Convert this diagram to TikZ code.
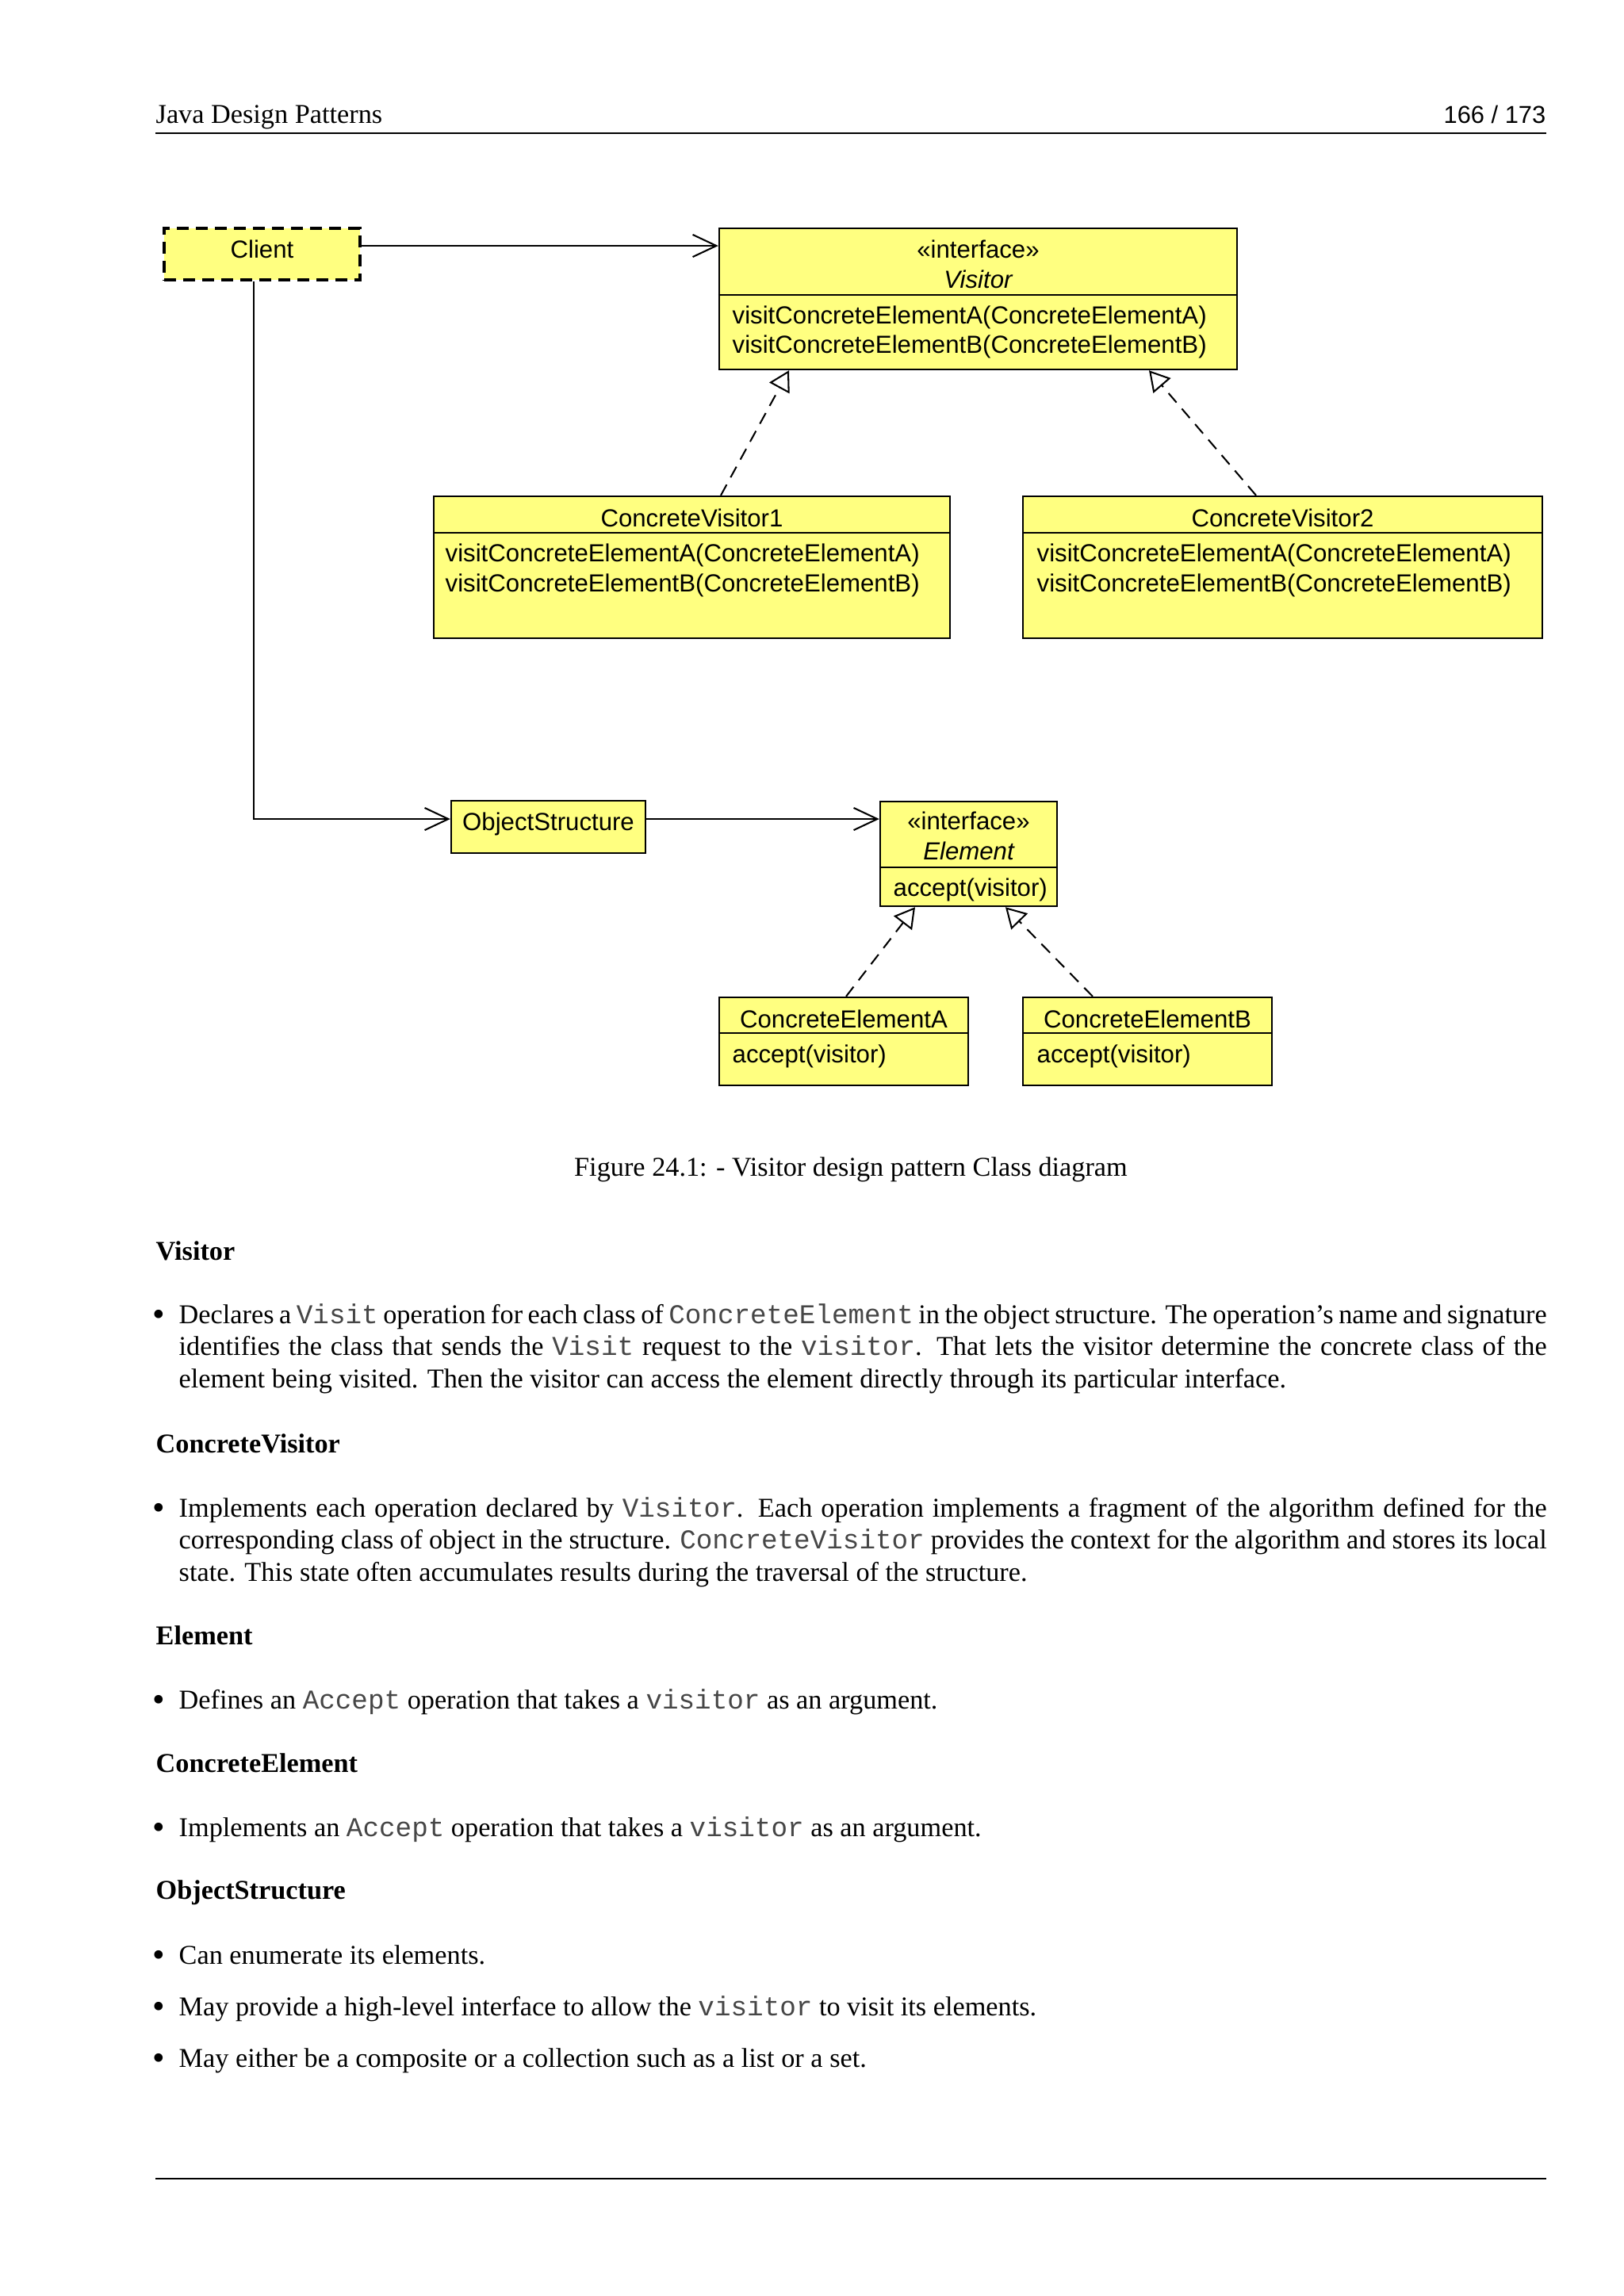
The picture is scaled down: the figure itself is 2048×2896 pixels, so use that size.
\documentclass[tikz,border=0pt]{standalone}
\usepackage{fontspec}
\setmainfont{Liberation Serif}
\setsansfont{Liberation Sans}
\setmonofont{Liberation Mono}
\usepackage{tikz}
\usetikzlibrary{arrows.meta,fit}
\definecolor{umlyellow}{RGB}{255,255,128}
\definecolor{codegray}{RGB}{70,70,70}
\newcommand{\code}[1]{\textcolor{codegray}{\texttt{#1}}}
\hyphenpenalty=10000

\begin{document}
\begin{tikzpicture}[x=0.102539mm,y=0.102539mm]
\tikzstyle{every node}+=[inner sep=0pt]
\tikzstyle{umlbox}=[draw=black,fill=umlyellow,line width=0.7pt]
\tikzstyle{umltext}=[font=\sffamily\fontsize{9.1}{11}\selectfont,anchor=base]
\tikzstyle{umlname}=[font=\sffamily\itshape\fontsize{9.1}{11}\selectfont,anchor=base]
\tikzstyle{umlop}=[umltext,anchor=base west]
\tikzstyle{assoc}=[line width=0.6pt,-{Straight Barb[length=8.7pt,width=8.2pt]}]
\tikzstyle{realize}=[line width=0.6pt,dash pattern=on 4.5pt off 3pt,-{Triangle[open,fill=white,length=7.4pt,width=8.4pt]}]
\tikzstyle{para}=[font=\fontsize{10}{11.9}\selectfont,anchor=base west,text width=176.88mm,align=justify]
\tikzstyle{heading}=[font=\fontsize{10}{12}\selectfont\bfseries,anchor=base west]
\tikzstyle{bullet}=[font=\fontsize{13}{14}\selectfont,anchor=base west]
\fill [white] (0,0) rectangle (2048,-2896);
\useasboundingbox (0,0) rectangle (2048,-2896);
\node [font=\fontsize{10}{12}\selectfont,anchor=base west] (booktitle) at (196,-155) {Java Design Patterns};
\node [font=\sffamily\fontsize{9}{11}\selectfont,anchor=base east] (pageno) at (1950,-155) {166 / 173};
\draw [line width=0.6pt] (196,-168) -- (1950,-168);
\node [umlbox,line width=0.9pt,dash pattern=on 4.4pt off 2.6pt,fit={(207,-288) (454,-353)}] (client) {};
\node [umltext] (clientname) at (330.5,-325) {Client};
\node [umlbox,fit={(907,-288) (1560,-466)}] (visitor) {};
\draw [line width=0.7pt] (visitor.west |- 0,-372) -- (visitor.east |- 0,-372);
\node [umltext] (visitorkind) at (1233.5,-325) {«interface»};
\node [umlname] (visitorname) at (1233.5,-363) {Visitor};
\node [umlop] (visitorop1) at (923,-408) {visitConcreteElementA(ConcreteElementA)};
\node [umlop] (visitorop2) at (923,-445) {visitConcreteElementB(ConcreteElementB)};
\node [umlbox,fit={(547,-626) (1198,-805)}] (cv1) {};
\draw [line width=0.7pt] (cv1.west |- 0,-672) -- (cv1.east |- 0,-672);
\node [umltext] (cv1name) at (872.5,-664) {ConcreteVisitor1};
\node [umlop] (cv1op1) at (561,-708) {visitConcreteElementA(ConcreteElementA)};
\node [umlop] (cv1op2) at (561,-746) {visitConcreteElementB(ConcreteElementB)};
\node [umlbox,fit={(1290,-626) (1945,-805)}] (cv2) {};
\draw [line width=0.7pt] (cv2.west |- 0,-672) -- (cv2.east |- 0,-672);
\node [umltext] (cv2name) at (1617.5,-664) {ConcreteVisitor2};
\node [umlop] (cv2op1) at (1307,-708) {visitConcreteElementA(ConcreteElementA)};
\node [umlop] (cv2op2) at (1307,-746) {visitConcreteElementB(ConcreteElementB)};
\node [umlbox,fit={(569,-1010) (814,-1076)}] (objstruct) {};
\node [umltext] (objstructname) at (691.5,-1047) {ObjectStructure};
\node [umlbox,fit={(1110,-1011) (1333,-1143)}] (element) {};
\draw [line width=0.7pt] (element.west |- 0,-1094) -- (element.east |- 0,-1094);
\node [umltext] (elementkind) at (1221.5,-1046) {«interface»};
\node [umlname] (elementname) at (1221.5,-1084) {Element};
\node [umlop] (elementop) at (1126,-1130) {accept(visitor)};
\node [umlbox,fit={(907,-1258) (1221,-1369)}] (cea) {};
\draw [line width=0.7pt] (cea.west |- 0,-1303) -- (cea.east |- 0,-1303);
\node [umltext] (ceaname) at (1064,-1296) {ConcreteElementA};
\node [umlop] (ceaop) at (923,-1340) {accept(visitor)};
\node [umlbox,fit={(1290,-1258) (1604,-1369)}] (ceb) {};
\draw [line width=0.7pt] (ceb.west |- 0,-1303) -- (ceb.east |- 0,-1303);
\node [umltext] (cebname) at (1447,-1296) {ConcreteElementB};
\node [umlop] (cebop) at (1307,-1340) {accept(visitor)};
\draw [assoc] (client.east |- 0,-310) -- (visitor.west |- 0,-310);
\draw [assoc] (client.south -| 320,0) |- (objstruct.west |- 0,-1033);
\draw [assoc] (objstruct.east |- 0,-1033) -- (element.west |- 0,-1033);
\draw [realize] (cv1.north -| 909,0) -- (visitor.south -| 995,0);
\draw [realize] (cv2.north -| 1584,0) -- (visitor.south -| 1449,0);
\draw [realize] (cea.north -| 1067,0) -- (element.south -| 1154,0);
\draw [realize] (ceb.north -| 1378,0) -- (element.south -| 1268,0);
\node [font=\fontsize{10}{12}\selectfont,anchor=base] (caption) at (1073,-1483) {Figure 24.1: - Visitor design pattern Class diagram};
\node [heading] (hvisitor) at (196,-1589) {Visitor};
\node [bullet] (b1) at (192,-1672) {•};
\node [para] (p1) at (225,-1669) {Declares a \code{Visit} operation for each class of \code{ConcreteElement} in the object structure. The operation’s name and signature\linebreak identifies the class that sends the \code{Visit} request to the \code{visitor}. That lets the visitor determine the concrete class of the\linebreak element being visited. Then the visitor can access the element directly through its particular interface.};
\node [heading] (hconcretevisitor) at (196,-1832) {ConcreteVisitor};
\node [bullet] (b2) at (192,-1916) {•};
\node [para] (p2) at (225,-1913) {Implements each operation declared by \code{Visitor}. Each operation implements a fragment of the algorithm defined for the\linebreak corresponding class of object in the structure. \code{ConcreteVisitor} provides the context for the algorithm and stores its local\linebreak state. This state often accumulates results during the traversal of the structure.};
\node [heading] (helement) at (196,-2074) {Element};
\node [bullet] (b3) at (192,-2158) {•};
\node [para] (p3) at (225,-2155) {Defines an \code{Accept} operation that takes a \code{visitor} as an argument.};
\node [heading] (hconcreteelement) at (196,-2235) {ConcreteElement};
\node [bullet] (b4) at (192,-2319) {•};
\node [para] (p4) at (225,-2316) {Implements an \code{Accept} operation that takes a \code{visitor} as an argument.};
\node [heading] (hobjstruct) at (196,-2395) {ObjectStructure};
\node [bullet] (b5) at (192,-2480) {•};
\node [para] (p5) at (225,-2477) {Can enumerate its elements.};
\node [bullet] (b6) at (192,-2545) {•};
\node [para] (p6) at (225,-2542) {May provide a high-level interface to allow the \code{visitor} to visit its elements.};
\node [bullet] (b7) at (192,-2610) {•};
\node [para] (p7) at (225,-2607) {May either be a composite or a collection such as a list or a set.};
\draw [line width=0.6pt] (196,-2748) -- (1950,-2748);
\end{tikzpicture}
\end{document}
